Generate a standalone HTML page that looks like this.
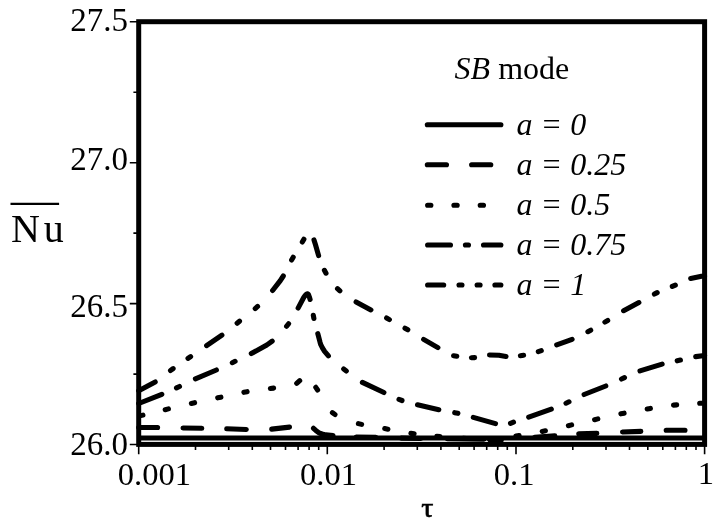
<!DOCTYPE html>
<html lang="en">
<head>
<meta charset="utf-8">
<title>Average Nusselt number vs tau, SB mode</title>
<style>
html,body{margin:0;padding:0;background:#fff;}
body{width:720px;height:526px;overflow:hidden;}
svg{display:block;will-change:transform;filter:grayscale(1);}
text{font-family:"Liberation Serif","Times New Roman",Times,serif;fill:#000;}
.t{font-size:32px;}
.i{font-style:italic;}
.c{fill:none;stroke:#000;stroke-width:5.1;stroke-linecap:round;stroke-linejoin:round;}
.k{stroke:#000;stroke-width:1.6;fill:none;}
</style>
</head>
<body>
<svg width="720" height="526" viewBox="0 0 720 526">
<rect x="0" y="0" width="720" height="526" fill="#fff"/>
<path class="k" d="M129.8 21.8 H138.7M129.8 162.7 H138.7M129.8 303.6 H138.7M129.8 444.5 H138.7M133.4 92.2 H138.7M133.4 233.1 H138.7M133.4 374.1 H138.7M138.7 444.4 V454.2M195.5 444.4 V450M228.7 444.4 V450M252.3 444.4 V450M270.5 444.4 V450M285.5 444.4 V450M298.1 444.4 V450M309.1 444.4 V450M318.7 444.4 V450M327.3 444.4 V454.2M384.1 444.4 V450M417.3 444.4 V450M440.9 444.4 V450M459.2 444.4 V450M474.1 444.4 V450M486.7 444.4 V450M497.7 444.4 V450M507.3 444.4 V450M516 444.4 V454.2M572.8 444.4 V450M606 444.4 V450M629.5 444.4 V450M647.8 444.4 V450M662.8 444.4 V450M675.4 444.4 V450M686.3 444.4 V450M696 444.4 V450M704.6 444.4 V454.2"/>
<g class="c">
<path d="M138.7 437.9 H704.6" style="stroke-width:5;stroke-linecap:butt"/>
<path d="M138.7 427.5L157.6 427.5M183 428L201.8 428.3M226.7 428.8L246.3 429.5M271.7 429.1L289.5 427.1M313.5 428.3L315.8 430.4L318.9 432.8L322 434L325.9 434.9L333 435.5M356.2 437L375.8 437.3M401.2 438.1L420.8 438.5M447.5 438.8L484 439.1M490.2 439.9L501.3 439.9M534.7 437.3L554.8 435.9M578.7 433.9L596.8 433.4M622.5 432L640.8 431.4M666.2 430.3L685 430.3"/>
<path d="M139.7 415.9L142.9 415.1M165.2 409.7L168.4 408.9M191.4 403.4L194.6 402.7M217.7 397.8L220.9 397.2M243.9 392.3L247.1 391.7M270.4 388.5L273.6 388.1M296.7 383.3L299.7 380.6M315.8 387.3L317.6 390M332.4 412.7L335 414.5M358.4 423.6L361.6 424.4M384.7 428.6L387.9 429.2M410.9 433.4L414.1 433.8M436.8 436.4L440 436.6M463.2 438.4L466.4 438.5M489.4 439L492.6 439M515.9 436L519.1 435.6M542.2 431.4L545.4 430.8M568.4 425.7L571.6 424.9M594.6 419.7L597.8 418.9M620.9 413.8L624.1 413.2M647.2 409L650.4 408.4M673.5 405.1L676.7 404.9M699.7 403.3L702.9 403.3"/>
<path d="M138.7 403.5L161.8 394.3M176.5 387.9L179.5 386.5M195.4 378.8L216.4 370M232.3 362.7L235.1 361.3M251.3 353.6L266.8 345L272.2 341.2M286.6 326.3L288.6 323.7M298.1 308.1L303.7 297.5L305.3 295.3L306.1 294.5L306.9 294L307.7 293.8L308.5 294.6L309.3 296.8L310.1 299.5M313.3 315.3L313.9 318.5M317.8 333.7L320.1 342.4L320.8 344.7L322.4 347.8L324.6 351.4L328.4 355.9M343.7 369L346.3 371M362.4 382.4L383.9 392.5M399 399.4L402 400.5M417.5 404.8L438.8 409.7M454.7 412.7L457.9 413.3M473.3 417.4L495.5 423.6M510.5 423.3L513.5 422.1M528.7 417.2L551.3 409.2M566 403.2L569 401.8M584.1 394.5L605.8 386M621.5 379L624.5 377.6M640 370.9L662.1 364.1M677.2 360.8L680.4 360.1M695.7 356.6L704.6 355.5"/>
<path d="M138.7 390.7L155.2 382M170.5 370.5L173.1 368.6M188 358.4L190.6 356.6M206.6 345.6L221.9 335.2M237.1 323.2L239.5 321.2M255.2 308.6L257.6 306.4M272.6 290.5L280.3 280.6L283.3 276M291.6 260L293.2 257.2M302.3 242.1L303.9 239.2M314 239.9L315.5 244.8L318.6 255.6M324.4 270.3L326 273.2M337.5 288.6L339.9 290.8M356.1 301.9L370.9 309.9M386.6 318L389.4 319.6M405 328.2L407.8 329.8M423.6 339.4L437.9 347.6M453.6 355.7L456.8 356.2M471.4 357.7L474.6 357.6M489.5 355L498.9 355.3L506 356.5M520.4 355.7L523.6 355.3M538.3 351.7L541.3 350.7M556.7 344.8L572.1 339.3M587.9 331.7L590.7 330.2M604.9 322.1L607.7 320.5M623.6 310.7L638.9 302.6M654.4 294L657.2 292.6M672.3 286.4L675.3 285.1M690.7 278.5L701.5 276.3L704.6 276"/>
<path d="M427.3 124.8 H500.9"/>
<path d="M427.3 164.8 H492.9" stroke-dasharray="19.2 25.1"/>
<path d="M427.6 205.3 H500.9" stroke-dasharray="3.3 23"/>
<path d="M427.6 245 H500.9" stroke-dasharray="22.9 14.9 3.1 15"/>
<path d="M427.6 285 H500.9" stroke-dasharray="16.1 15.3 3 15.1 3 14.8"/>
</g>
<rect x="138.7" y="21.7" width="565.9" height="422.7" fill="none" stroke="#000" stroke-width="5"/>
<text x="70.2" y="31.4" style="font-size:33px">27.5</text>
<text x="70.2" y="170" style="font-size:33px">27.0</text>
<text x="70.2" y="317" style="font-size:33px">26.5</text>
<text x="70.2" y="455.2" style="font-size:33px">26.0</text>
<g style="font-size:32.6px">
<text x="117.8" y="485.4">0.001</text>
<text x="300.0" y="485.2">0.01</text>
<text x="493.8" y="485.2">0.1</text>
<text x="697.7" y="484.2">1</text>
</g>
<text transform="translate(421.2 516.7) scale(1.08 1)" style="font-size:28px;stroke:#000;stroke-width:0.6px">τ</text>
<text x="11.1" y="242" style="font-size:40px;letter-spacing:3.8px">Nu</text>
<path d="M10.5 203.9 H59.1" stroke="#000" stroke-width="2.1" fill="none"/>
<text class="t" x="454.6" y="78.8"><tspan class="i">SB</tspan> mode</text>
<text class="t i" x="516.6" y="135.4">a = 0</text>
<text class="t i" x="516.6" y="175.4">a = 0.25</text>
<text class="t i" x="516.6" y="215.4">a = 0.5</text>
<text class="t i" x="516.6" y="255.4">a = 0.75</text>
<text class="t i" x="516.6" y="295.4">a = 1</text>
</svg>
</body>
</html>
